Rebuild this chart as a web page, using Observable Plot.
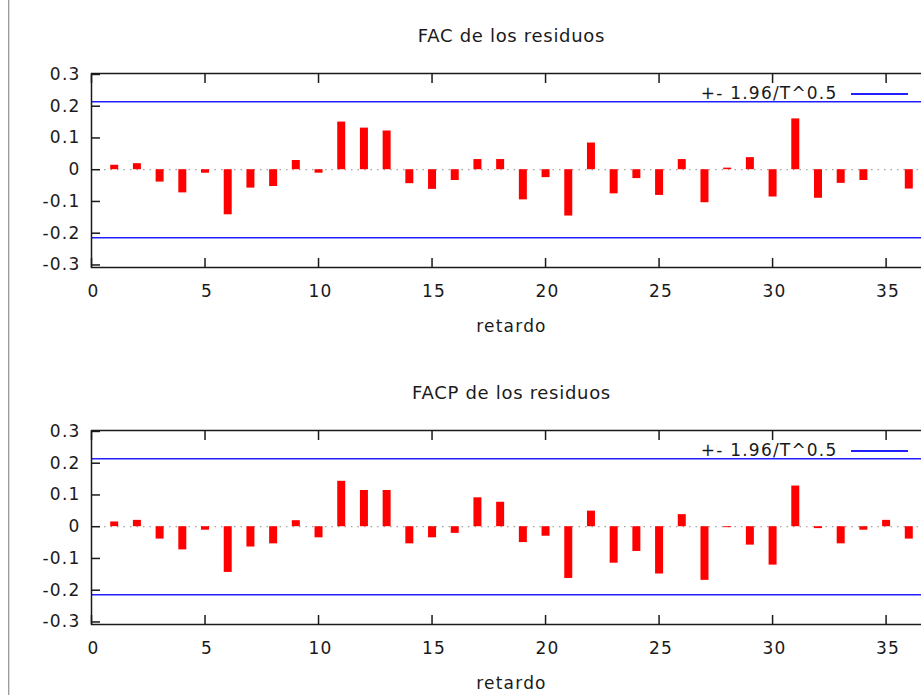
<!DOCTYPE html>
<html>
<head>
<meta charset="utf-8">
<script src="https://cdn.jsdelivr.net/npm/d3@7"></script>
<script src="https://cdn.jsdelivr.net/npm/@observablehq/plot@0.6"></script>
<style>
  html, body { margin: 0; padding: 0; background: #fff; overflow: hidden; }
  #wrap { position: relative; width: 921px; height: 695px; overflow: hidden; background: #fff; }
  #edge { position: absolute; left: 8px; top: 0; width: 1px; height: 695px; background: #9c9c9c; box-shadow: 1px 0 0 #dcdcdc; }
  .panel { position: absolute; left: 0; width: 931px; height: 357px; }
  .panel svg text { letter-spacing: 1.2px; }
  .legline { position: absolute; left: 851px; top: 93px; width: 57px; height: 1.5px; background: #2020ff; }
</style>
</head>
<body>
<div id="wrap">
  <div id="p1" class="panel" style="top:0px"></div>
  <div id="p2" class="panel" style="top:357px"></div>
  <div id="edge"></div>
</div>
<script>
// ---- data ----
const lags = [1, 2, 3, 4, 5, 6, 7, 8, 9, 10, 11, 12, 13, 14, 15, 16, 17, 18,
              19, 20, 21, 22, 23, 24, 25, 26, 27, 28, 29, 30, 31, 32, 33, 34, 35, 36];
const facValues = [0.014, 0.019, -0.039, -0.073, -0.011, -0.142, -0.058, -0.053, 0.029, -0.011,
                   0.150, 0.131, 0.122, -0.044, -0.062, -0.034, 0.032, 0.032, -0.095, -0.025,
                   -0.146, 0.084, -0.076, -0.028, -0.081, 0.032, -0.104, 0.005, 0.038, -0.086,
                   0.160, -0.090, -0.043, -0.034, 0.000, -0.061];
const facpValues = [0.015, 0.020, -0.039, -0.073, -0.011, -0.144, -0.064, -0.054, 0.019, -0.035,
                    0.143, 0.114, 0.114, -0.054, -0.035, -0.021, 0.091, 0.077, -0.050, -0.030,
                    -0.163, 0.049, -0.115, -0.078, -0.149, 0.038, -0.169, -0.003, -0.058, -0.121,
                    0.128, -0.006, -0.054, -0.011, 0.020, -0.039];
const band = 0.214; // 1.96 / sqrt(T)
const xTicks = [0, 5, 10, 15, 20, 25, 30, 35];
const yTicks = [-0.3, -0.2, -0.1, 0, 0.1, 0.2, 0.3];
const titles = ["FAC de los residuos", "FACP de los residuos"];
const xLabel = "retardo";
const legendLabel = "+- 1.96/T^0.5";

const ink = "#1a1a1a";
const fmtY = d => d === 0 ? "0" : d.toFixed(1);

function panel(values, title) {
  const data = lags.map((lag, i) => ({lag, v: values[i]}));
  const svg = Plot.plot({
    width: 931,
    height: 357,
    marginLeft: 91,
    marginRight: 0,
    marginTop: 73,
    marginBottom: 90,
    style: {fontFamily: "'DejaVu Sans', Verdana, sans-serif", fontSize: "17px", color: ink, background: "transparent", overflow: "visible"},
    x: {domain: [0, 37]},
    y: {domain: [-0.308, 0.303]},
    marks: [
      Plot.ruleY([0], {stroke: "#8c8c8c", strokeDasharray: "1.5,5"}),
      Plot.ruleY([band, -band], {stroke: "#2020ff", strokeWidth: 1.5}),
      Plot.ruleX(data, {x: "lag", y1: 0, y2: "v", stroke: "#ff0000", strokeWidth: 8}),
      Plot.frame({stroke: ink, strokeWidth: 1.5}),
      // inward ticks (mirrored on top/right like gnuplot)
      Plot.axisY(yTicks, {anchor: "left", tickSize: -9, tickFormat: () => "", label: null, strokeWidth: 1.5, color: ink}),
      Plot.axisY(yTicks, {anchor: "right", tickSize: -9, tickFormat: () => "", label: null, strokeWidth: 1.5, color: ink}),
      Plot.axisX(xTicks, {anchor: "bottom", tickSize: -9, tickFormat: () => "", label: null, strokeWidth: 1.5, color: ink}),
      Plot.axisX(xTicks, {anchor: "top", tickSize: -9, tickFormat: () => "", label: null, strokeWidth: 1.5, color: ink}),
      // tick labels
      Plot.axisY(yTicks, {anchor: "left", tickSize: 0, tickPadding: 11, tickFormat: fmtY, label: null, color: ink}),
      Plot.axisX(xTicks, {anchor: "bottom", tickSize: 0, tickPadding: 17, dx: 2, label: null, color: ink}),
      // titles and labels
      Plot.text([title], {text: d => d, frameAnchor: "top", lineAnchor: "middle", dy: -37, fontSize: 18, fill: ink}),
      Plot.text([xLabel], {text: d => d, frameAnchor: "bottom", lineAnchor: "middle", dy: 59, fill: ink}),
      Plot.text([legendLabel], {text: d => d, frameAnchor: "top-right", lineAnchor: "middle", textAnchor: "end", dx: -94, dy: 20, fill: ink})
    ]
  });
  d3.select(svg).selectAll("text").filter(function() { return this.textContent === title; })
    .style("letter-spacing", "0.7px");
  return svg;
}

const containers = [document.getElementById("p1"), document.getElementById("p2")];
[facValues, facpValues].forEach((vals, i) => {
  containers[i].appendChild(panel(vals, titles[i]));
  const line = document.createElement("div");
  line.className = "legline";
  containers[i].appendChild(line);
});
</script>
</body>
</html>
